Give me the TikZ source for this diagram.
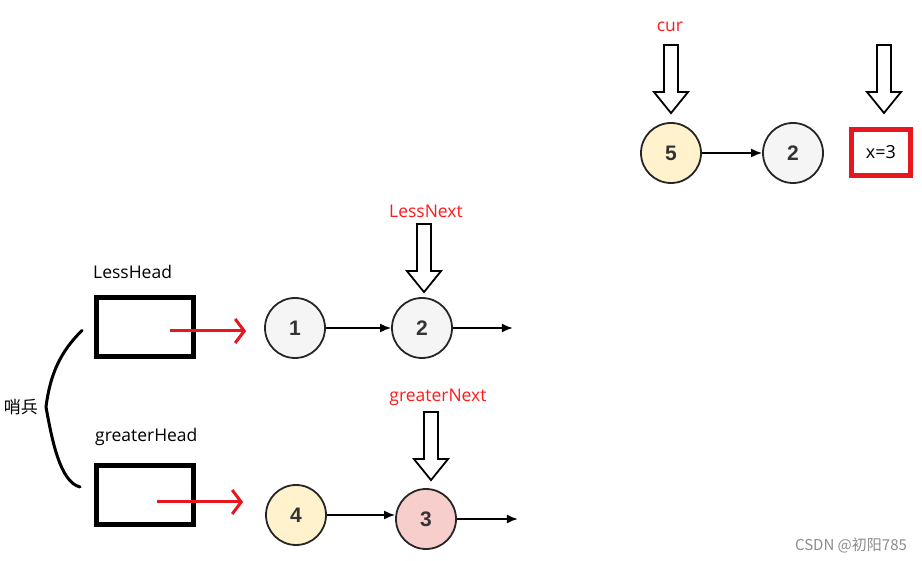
\documentclass[tikz,border=0pt]{standalone}
\usepackage{fontspec}
\setmainfont{Liberation Sans}
\newfontfamily\labelfont{Open Sans}
\newfontfamily\cjk{Noto Sans CJK SC}
\usetikzlibrary{arrows.meta,positioning,calc}
\definecolor{nodeyellow}{HTML}{FFF2CC}
\definecolor{nodegray}{HTML}{F5F5F5}
\definecolor{nodepink}{HTML}{F8CECC}
\definecolor{ptrred}{HTML}{FF1A1A}
\definecolor{boxred}{HTML}{E8161E}
\tikzstyle{val}=[circle, draw=black!85, line width=1.8pt, minimum size=60pt,
  inner sep=0pt, font=\fontsize{21}{24}\selectfont\bfseries, text=black!80]
\tikzstyle{sentinel}=[draw, line width=5pt, minimum width=97pt,
  minimum height=59pt]
\tikzstyle{xbox}=[draw=boxred, line width=5pt, minimum width=59pt,
  minimum height=46pt, font=\labelfont\fontsize{18}{21}\selectfont]
\tikzstyle{lbl}=[inner sep=0pt, font=\labelfont\fontsize{17.5}{20}\selectfont]
\tikzstyle{ptrlbl}=[lbl, text=ptrred]
\tikzstyle{link}=[draw, line width=1.8pt, -{Latex[length=11pt,width=9pt]}]
\tikzstyle{redlink}=[draw, line width=3pt, color=boxred,
  -{Straight Barb[length=9pt,width=24pt]}]
\tikzstyle{hollow}=[draw, line width=1.8pt, fill=white, line join=miter]
\tikzstyle{brace}=[draw, line width=3pt, line cap=round]
\newcommand{\pointer}[1]{%
  \path[hollow] (#1) -- ++(-17,-21) -- ++(10,0) -- ++(0,-47)
    -- ++(14,0) -- ++(0,47) -- ++(10,0) -- cycle;}

\begin{document}
\begin{tikzpicture}[x=1pt,y=-1pt]
  \useasboundingbox (0,0) rectangle (922,561);

  % Draw the input list
  \node[val, fill=nodeyellow] (c5) at (671,153) {5};
  \node[val, fill=nodegray] (c2) at (793,153) {2};
  \node[xbox] (xv) at (881,152.5) {x=3};
  \path [link] (c5) -- (c2);

  % Draw the less list
  \node[sentinel] (lhead) at (145,327.5) {};
  \node[val, fill=nodegray] (l1) at (295,328) {1};
  \node[val, fill=nodegray] (l2) at (422,328) {2};
  \path (l2.east)+(60,0) coordinate (lend);
  \path [link] (l1) -- (l2);
  \path [link] (l2) -- (lend);

  % Draw the greater list
  \node[sentinel] (ghead) at (145,495) {};
  \node[val, fill=nodeyellow] (g4) at (296,515) {4};
  \node[val, fill=nodepink] (g3) at (426,519) {3};
  \path (g3.east)+(61,0) coordinate (gend);
  \path [link] (g4) -- (g3.west |- g4);
  \path [link] (g3) -- (gend);

  % Red arrows out of the sentinels
  \path (lhead.center)+(25,3.5) coordinate (ls);
  \path (l1.west)+(-18,3) coordinate (le);
  \path [redlink] (ls) -- (le);
  \path (ghead.center)+(12,7) coordinate (gs);
  \path (g4.west)+(-22,-13) coordinate (ge);
  \path [redlink] (gs) -- (ge);

  % Labels
  \node[lbl, anchor=south west] (lname) at ($(lhead.north west)+(-1,-17)$) {LessHead};
  \node[lbl, anchor=south west] (gname) at ($(ghead.north west)+(1,-17)$) {greaterHead};
  \node[ptrlbl] (curname) at (670,27) {cur};
  \node[ptrlbl] (lnname) at (426,211) {LessNext};
  \node[ptrlbl] (gnname) at (438,397) {greaterNext};

  % Pointers
  \path (c5.north)+(0,-9) coordinate (pc);
  \path (xv.north)+(3,-14) coordinate (px);
  \path (l2.north)+(2,-5) coordinate (pl);
  \path (g3.north)+(5,-8) coordinate (pg);
  \pointer{pc}
  \pointer{px}
  \pointer{pl}
  \pointer{pg}

  % Sentinel brace
  \path (lhead.west)+(-12,3) coordinate (bt);
  \path (ghead.west)+(-14,-8) coordinate (bb);
  \path [brace] (bt) .. controls (60,352) and (50,375) .. (46,407)
    .. controls (52,440) and (60,482) .. (bb);
  \node[inner sep=0pt, font=\cjk\fontsize{17}{20}\selectfont] (shaobing) at (21,407) {哨兵};

  % Watermark
  \node[inner sep=0pt, text=black!45, font=\cjk\fontsize{15}{17}\selectfont] (mark) at (851,545) {CSDN @初阳785};
\end{tikzpicture}
\end{document}
